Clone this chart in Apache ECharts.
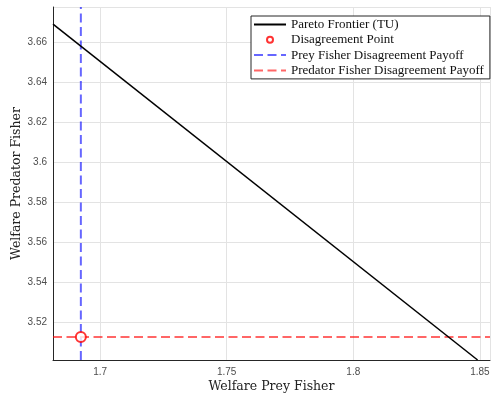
<!DOCTYPE html>
<html>
<head>
<meta charset="utf-8">
<script src="https://cdn.jsdelivr.net/npm/echarts@6/dist/echarts.min.js"></script>
<style>
  html, body { margin: 0; padding: 0; background: #fff; }
  #chart { width: 494px; height: 394px; }
</style>
</head>
<body>
<div id="chart"></div>
<script>
// Pareto frontier (transferable utility), end points
var frontierX = [1.6814, 1.8491];
var frontierY = [3.6692, 3.5013];

// disagreement point
var disagreeX = [1.6924];
var disagreeY = [3.5128];

// axis ranges
var xRange = [1.6814, 1.854];
var yRange = [3.5013, 3.6778];

var seriesNames = [
    'Pareto Frontier (TU)',
    'Disagreement Point',
    'Prey Fisher Disagreement Payoff',
    'Predator Fisher Disagreement Payoff'
];

function pairs(xs, ys) {
    var out = [];
    for (var i = 0; i < xs.length; i++) {
        out.push([xs[i], ys[i]]);
    }
    return out;
}

var chart = echarts.init(document.getElementById('chart'));

var serif = 'DejaVu Serif';
var sans = 'Liberation Sans';

// hide the little dot echarts puts on line legend icons
var noDot = { opacity: 0 };

var option = {
    animation: false,
    grid: { left: 53, right: 4, top: 7, bottom: 34, outerBoundsMode: 'none' },
    legend: {
        orient: 'vertical',
        left: 251,
        top: 16,
        padding: [1, 6, 1, 2],
        itemWidth: 32,
        itemHeight: 6,
        itemGap: 0.3,
        backgroundColor: '#fff',
        borderColor: '#262626',
        borderWidth: 1,
        textStyle: { fontFamily: 'Liberation Serif', fontSize: 13, color: '#111', lineHeight: 15 },
        data: [
            { name: seriesNames[0], itemStyle: noDot },
            { name: seriesNames[1] },
            { name: seriesNames[2], itemStyle: noDot },
            { name: seriesNames[3], itemStyle: noDot }
        ]
    },
    xAxis: {
        type: 'value',
        min: xRange[0],
        max: xRange[1],
        splitNumber: 4,
        name: 'Welfare Prey Fisher',
        nameLocation: 'middle',
        nameGap: 20,
        nameMoveOverlap: false,
        nameTextStyle: { fontFamily: serif, fontSize: 12.5, color: '#222' },
        axisLine: { onZero: false, lineStyle: { color: '#262626', width: 1 } },
        axisTick: { show: false },
        axisLabel: {
            showMinLabel: false, showMaxLabel: false,
            fontFamily: sans, fontSize: 10, color: '#4d4d4d', margin: 7
        },
        splitLine: { lineStyle: { color: '#e3e3e3', width: 1 } }
    },
    yAxis: {
        type: 'value',
        min: yRange[0],
        max: yRange[1],
        splitNumber: 8,
        name: 'Welfare Predator Fisher',
        nameLocation: 'middle',
        nameGap: 30,
        nameMoveOverlap: false,
        nameTextStyle: { fontFamily: serif, fontSize: 12.5, color: '#222' },
        axisLine: { show: true, onZero: false, lineStyle: { color: '#262626', width: 1 } },
        axisTick: { show: false },
        axisLabel: {
            showMinLabel: false, showMaxLabel: false,
            fontFamily: sans, fontSize: 10, color: '#4d4d4d', margin: 6
        },
        splitLine: { lineStyle: { color: '#e3e3e3', width: 1 } }
    },
    series: [
        {
            name: seriesNames[0],
            type: 'line',
            symbol: 'none',
            z: 3,
            lineStyle: { color: '#000', width: 1.5 },
            itemStyle: { color: '#000' },
            data: pairs(frontierX, frontierY)
        },
        {
            name: seriesNames[1],
            type: 'scatter',
            symbol: 'emptyCircle',
            symbolSize: 10,
            z: 5,
            itemStyle: { color: '#ff0000', borderColor: '#ff0000', borderWidth: 2 },
            data: pairs(disagreeX, disagreeY)
        },
        {
            name: seriesNames[2],
            type: 'line',
            symbol: 'none',
            z: 2,
            lineStyle: { color: 'rgba(0,0,255,0.6)', width: 2, type: [9, 4.5] },
            itemStyle: { color: 'rgba(0,0,255,0.6)' },
            data: pairs([disagreeX[0], disagreeX[0]], [yRange[0], yRange[1]])
        },
        {
            name: seriesNames[3],
            type: 'line',
            symbol: 'none',
            z: 2,
            lineStyle: { color: 'rgba(255,0,0,0.6)', width: 2, type: [9, 4.5] },
            itemStyle: { color: 'rgba(255,0,0,0.6)' },
            data: pairs([xRange[0], xRange[1]], [disagreeY[0], disagreeY[0]])
        }
    ]
};

chart.setOption(option);
</script>
</body>
</html>
